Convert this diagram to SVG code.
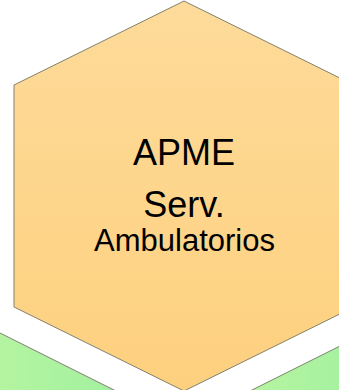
<svg xmlns="http://www.w3.org/2000/svg" width="339" height="390" viewBox="0 0 339 390">
  <defs>
    <linearGradient id="orange" x1="0" y1="0" x2="0" y2="1">
      <stop offset="0" stop-color="#fedb9a"/>
      <stop offset="1" stop-color="#fdd07e"/>
    </linearGradient>
    <linearGradient id="green" x1="0" y1="0" x2="1" y2="0">
      <stop offset="0" stop-color="#baf5a0"/>
      <stop offset="1" stop-color="#9ff0a0"/>
    </linearGradient>
    <style>
      .hex { stroke: #80806f; stroke-width: 1; }
      .lbl { font-family: "Liberation Sans", Arial, sans-serif; fill: #000000; text-anchor: middle; }
    </style>
  </defs>
  <rect width="339" height="390" fill="#ffffff"/>
  <g id="hex-green-left">
    <polygon class="hex" points="-40,313 136,401 -40,401" fill="url(#green)"/>
  </g>
  <g id="hex-green-right">
    <polygon class="hex" points="380,326 230,401 380,401" fill="url(#green)"/>
  </g>
  <g id="connectors"></g>
  <g id="hex-apme">
    <polygon class="hex" points="184,1 354,85 354,307 184,391 14,307 14,85" fill="url(#orange)"/>
    <text class="lbl" x="184" y="165" font-size="36">APME</text>
    <text class="lbl" x="184" y="217" font-size="36">Serv.</text>
    <text class="lbl" x="184.5" y="251" font-size="31">Ambulatorios</text>
  </g>
</svg>
